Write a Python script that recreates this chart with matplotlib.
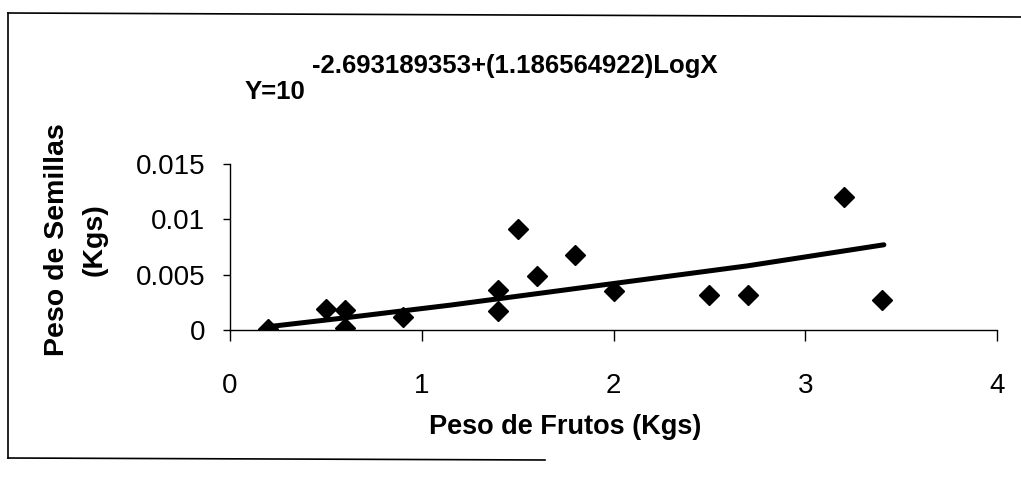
import matplotlib
matplotlib.use("Agg")
import matplotlib.pyplot as plt
from matplotlib.lines import Line2D

plt.rcParams['font.family'] = ['Liberation Sans', 'DejaVu Sans']

# puntos observados
peso_frutos = [0.2, 0.5, 0.6, 0.6, 0.9, 1.4, 1.4, 1.5, 1.6, 1.8, 2.0, 2.5, 2.7, 3.2, 3.4]
peso_semillas = [0.0001, 0.0019, 0.0018, 0.0002, 0.0012, 0.0036, 0.0017, 0.0091,
                 0.0049, 0.0068, 0.0035, 0.0032, 0.0032, 0.0120, 0.0027]

# linea de tendencia
tend_x = [0.2, 0.6, 1.15, 2.0, 2.7, 3.41]
tend_y = [0.0003, 0.0011, 0.00225, 0.0042, 0.0058, 0.0077]

x_ticks = [0, 1, 2, 3, 4]
y_ticks = [0, 0.005, 0.01, 0.015]
y_tick_labels = ["0", "0.005", "0.01", "0.015"]

fig = plt.figure(figsize=(10.21, 4.79), dpi=100)
ax = fig.add_axes([230 / 1021, 1 - 330 / 479, 767 / 1021, 166 / 479])

ax.plot(tend_x, tend_y, color="black", lw=3.6, solid_capstyle="round",
        solid_joinstyle="round", zorder=2)
ax.plot(peso_frutos, peso_semillas, ls="none", marker="D", ms=10.5,
        color="black", zorder=3)

ax.set_xlim(0, 4)
ax.set_ylim(0, 0.015)
ax.set_xticks(x_ticks)
ax.set_yticks(y_ticks)
ax.set_yticklabels(y_tick_labels)

for s in ["top", "right"]:
    ax.spines[s].set_visible(False)
ax.spines["left"].set_linewidth(1.0)
ax.spines["bottom"].set_linewidth(1.0)
ax.tick_params(axis="y", direction="out", length=5, width=1, pad=13, labelsize=20)
ax.tick_params(axis="x", direction="out", length=8, width=1, pad=23, labelsize=20)

fig.text(565 / 1021, 1 - 427 / 479, "Peso de Frutos (Kgs)", ha="center", va="center",
         fontsize=19.5, fontweight="bold")
fig.text(57 / 1021, 1 - 240 / 479, "Peso de Semillas", ha="center", va="center",
         rotation=90, fontsize=20.5, fontweight="bold")
fig.text(95 / 1021, 1 - 240 / 479, "(Kgs)", ha="center", va="center",
         rotation=90, fontsize=20.5, fontweight="bold")

fig.text(515 / 1021, 1 - 66 / 479, "-2.693189353+(1.186564922)LogX", ha="center",
         va="center", fontsize=18.5, fontweight="bold")
fig.text(275 / 1021, 1 - 92 / 479, "Y=10", ha="center", va="center",
         fontsize=18.5, fontweight="bold")

# marco escaneado
fig.add_artist(Line2D([8 / 1021, 1.0], [1 - 13 / 479, 1 - 17 / 479], color="black", lw=1.2))
fig.add_artist(Line2D([8 / 1021, 8 / 1021], [1 - 13 / 479, 1 - 458 / 479], color="black", lw=1.2))
fig.add_artist(Line2D([8 / 1021, 545 / 1021], [1 - 458 / 479, 1 - 460 / 479], color="black", lw=1.2))

fig.savefig("out.png", dpi=100, facecolor="white")
